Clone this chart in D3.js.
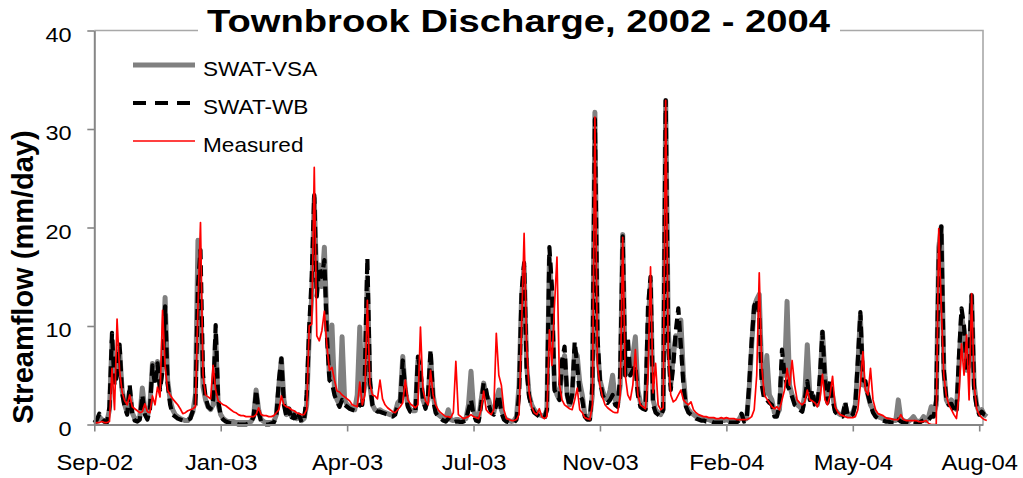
<!DOCTYPE html>
<html>
<head>
<meta charset="utf-8">
<script src="https://cdn.jsdelivr.net/npm/d3@7"></script>
<style>
  body { margin: 0; background: #ffffff; }
  svg text { font-family: Arial, "Liberation Sans", sans-serif; }
</style>
</head>
<body>
<svg id="chart" width="1023" height="478"></svg>
<script>
// ---------------- DATA ----------------
const titleText = "Townbrook Discharge, 2002 - 2004";
const yTitle = "Streamflow (mm/day)";
const seriesNames = ["SWAT-VSA", "SWAT-WB", "Measured"];
const startDate = Date.UTC(2002, 8, 28);   // first value
const stepDays = 2;                          // spacing of the values below
const tickStepDays = 100;                    // spacing of the x-axis ticks
const tickLabels = ["Sep-02", "Jan-03", "Apr-03", "Jul-03", "Nov-03", "Feb-04", "May-04", "Aug-04"];
const yTicks = [0, 10, 20, 30, 40];

const vsa = [
  0.1,0.3,0.8,0.5,0.3,0.3,1.5,8.5,4.5,6.0,
  7.5,3.5,2.0,1.2,3.5,1.2,0.6,0.5,0.8,3.7,
  1.5,0.8,2.0,6.2,4.5,6.4,4.0,6.0,12.9,4.5,
  2.5,1.5,1.0,0.8,0.6,0.5,0.4,0.4,0.7,1.3,
  3.0,18.7,12.0,3.8,2.5,1.8,1.5,2.0,9.0,2.0,
  1.0,0.6,0.4,0.3,0.3,0.3,0.2,0.2,0.2,0.2,
  0.2,0.2,0.3,0.8,3.5,1.5,0.5,0.3,0.2,0.2,
  0.2,0.3,1.0,4.0,6.7,2.5,1.0,1.6,0.8,1.2,
  0.6,0.8,0.4,0.6,2.0,9.0,13.0,23.0,14.0,16.2,
  14.0,18.0,10.0,5.0,10.1,3.5,2.5,2.0,8.9,2.5,
  2.0,1.8,1.6,1.5,3.0,9.9,2.5,4.0,15.0,4.0,
  2.0,1.5,1.4,1.5,1.3,1.2,1.1,1.0,1.0,1.2,
  2.2,2.5,6.9,3.5,2.0,1.5,1.4,1.4,6.5,5.0,
  2.5,1.8,2.5,7.0,3.0,1.5,1.0,0.8,0.7,0.6,
  1.5,0.5,0.4,0.5,0.5,0.4,0.5,0.6,2.0,5.4,
  1.5,0.6,0.5,2.5,4.2,3.0,2.5,1.5,1.2,2.5,
  3.5,1.5,0.8,0.5,0.4,0.3,0.4,0.8,4.0,13.0,
  16.0,6.0,3.0,2.0,1.5,1.2,1.0,0.9,0.8,1.5,
  16.8,12.0,4.0,3.0,2.5,6.0,7.0,3.0,2.0,3.0,
  7.5,7.0,4.3,3.0,1.0,0.7,0.6,3.0,31.7,8.0,
  4.5,3.5,2.7,2.5,3.5,5.0,2.5,2.0,4.0,19.3,
  5.0,6.0,5.0,7.0,8.9,3.5,2.2,1.8,1.6,10.0,
  14.5,2.5,1.5,1.2,1.0,1.5,32.9,10.0,4.0,7.0,
  9.0,8.0,10.6,5.0,2.0,1.5,1.2,1.0,0.8,0.7,
  0.6,0.6,0.5,0.5,0.4,0.4,0.4,0.4,0.4,0.4,
  0.5,0.4,0.4,0.3,0.3,0.5,1.0,0.5,0.6,3.5,
  8.0,12.0,12.7,13.2,5.0,3.0,7.0,3.0,2.5,1.2,
  1.0,1.5,6.0,5.0,12.5,4.0,3.0,2.5,2.0,1.8,
  1.5,3.0,8.1,3.0,3.0,2.5,2.0,4.0,9.4,5.0,
  2.5,4.0,3.0,1.5,1.2,1.0,1.0,2.0,1.0,1.0,
  1.2,2.0,6.0,11.0,4.0,4.0,3.0,2.0,1.5,1.0,
  0.8,0.7,0.6,0.5,0.5,0.4,0.4,0.4,2.5,0.6,
  0.4,0.3,0.3,0.5,0.8,0.4,0.3,0.4,0.8,0.4,
  0.8,1.8,1.0,2.0,18.0,20.1,5.5,2.5,2.0,2.5,
  2.0,1.5,6.0,11.0,9.5,5.5,6.0,13.1,4.0,2.0,
  1.2,1.5,1.0,0.8
];

const wb = [
  0.2,0.5,1.1,0.6,0.3,0.2,1.8,9.3,4.0,5.0,
  8.1,3.2,1.8,1.0,4.0,1.0,0.4,0.3,0.5,3.0,
  1.0,0.5,1.5,6.0,4.0,6.2,3.5,5.5,12.0,4.2,
  2.0,1.0,0.8,0.6,0.5,0.4,0.4,0.5,0.6,1.4,
  2.0,14.0,17.7,5.0,2.8,1.8,1.6,2.5,10.1,2.5,
  0.8,0.5,0.3,0.2,0.1,0.1,0.1,0.0,0.0,0.0,
  0.0,0.1,0.2,0.8,3.5,1.2,0.3,0.1,0.0,0.0,
  0.1,0.2,0.8,4.5,6.7,2.0,0.8,1.6,0.4,1.0,
  0.3,1.0,0.2,0.5,3.0,9.9,15.0,23.3,13.0,16.0,
  15.0,16.7,9.0,4.5,4.2,3.0,2.3,1.8,2.5,2.0,
  1.8,1.6,1.5,1.4,1.5,2.0,2.0,5.0,16.9,4.5,
  2.0,1.5,1.3,1.3,1.2,1.1,1.0,0.9,0.8,1.0,
  2.0,2.2,6.5,3.5,1.8,1.3,1.2,1.3,6.9,5.5,
  2.5,1.6,3.0,7.6,2.5,1.2,0.8,0.6,0.4,0.3,
  0.6,0.3,0.2,0.3,0.3,0.2,0.3,0.4,1.5,2.5,
  1.0,0.4,0.3,2.0,4.2,3.5,2.0,1.2,1.0,2.0,
  3.0,1.2,0.5,0.3,0.2,0.2,0.2,0.5,3.0,13.5,
  16.4,5.5,2.8,1.8,1.2,1.0,0.8,0.7,0.6,1.5,
  18.0,14.0,3.5,3.0,2.5,6.5,7.9,3.0,1.8,3.0,
  8.4,6.0,3.0,2.5,0.8,0.5,0.5,4.0,31.0,9.0,
  4.5,3.0,2.5,2.2,2.5,3.0,2.0,1.8,5.0,19.1,
  5.0,8.9,5.0,5.5,6.0,3.0,1.8,1.6,1.5,12.0,
  15.0,2.0,1.2,1.0,0.8,1.5,32.9,8.0,3.5,6.0,
  9.5,11.8,8.0,4.0,1.8,1.2,1.0,0.8,0.6,0.5,
  0.4,0.4,0.3,0.3,0.3,0.2,0.2,0.2,0.2,0.2,
  0.3,0.2,0.2,0.2,0.2,0.4,1.1,0.3,0.4,4.0,
  8.5,12.0,12.7,11.0,4.0,2.5,2.5,2.2,2.0,0.8,
  0.8,2.0,7.6,5.0,4.0,3.5,2.8,2.0,1.8,1.5,
  1.3,2.5,4.4,2.5,3.5,2.0,1.8,5.0,9.4,4.5,
  2.2,4.4,2.5,1.3,1.0,0.8,0.8,2.3,0.9,0.8,
  1.0,2.0,6.5,11.4,4.5,4.4,3.0,2.0,1.2,0.8,
  0.6,0.5,0.4,0.3,0.3,0.2,0.2,0.2,0.5,0.3,
  0.2,0.2,0.1,0.2,0.3,0.2,0.1,0.3,0.4,0.3,
  0.5,0.8,0.8,2.5,17.0,20.1,5.5,2.5,2.0,2.1,
  1.5,1.2,7.0,11.8,10.0,5.5,7.0,13.1,3.5,1.8,
  1.0,1.3,1.0,0.9
];

const measured = [
  0.1,0.2,0.2,0.3,0.2,0.2,0.3,5.7,1.5,10.7,
  5.5,3.3,2.4,2.0,3.0,1.8,1.6,1.4,1.2,1.3,
  2.1,1.3,1.2,2.9,2.0,3.8,2.8,11.6,6.0,3.5,
  3.0,2.6,2.3,2.0,1.6,1.1,1.2,1.4,1.5,1.6,
  1.8,12.0,20.5,5.0,3.0,2.8,2.6,6.0,3.5,2.4,
  2.2,2.0,1.9,1.7,1.5,1.3,1.2,1.0,0.9,0.9,
  0.8,0.8,0.8,0.8,1.0,1.7,1.0,0.9,0.9,0.8,
  0.8,0.9,1.2,1.5,2.9,2.0,1.8,1.7,1.5,1.4,
  1.2,1.1,1.0,1.0,1.5,10.0,10.2,26.1,9.0,8.5,
  9.5,11.5,8.0,5.5,5.8,4.5,3.4,3.3,3.0,2.8,
  2.6,2.4,2.0,1.9,1.8,4.3,2.0,3.0,12.6,4.1,
  3.0,2.9,2.6,4.5,2.6,2.0,1.7,1.5,1.3,1.2,
  1.5,1.8,2.2,4.5,2.5,2.1,1.9,1.7,2.0,9.9,
  3.5,2.4,2.0,5.5,3.0,2.0,1.5,1.2,1.0,0.8,
  0.8,0.7,1.2,6.4,1.0,0.8,0.6,0.7,0.8,1.0,
  0.8,0.7,0.6,1.5,3.4,1.5,1.2,1.0,1.5,9.25,
  5.0,4.0,1.5,0.6,0.5,0.4,0.4,0.5,1.0,10.0,
  19.4,8.0,3.2,1.8,1.2,1.0,1.6,0.8,0.6,0.8,
  9.6,6.0,12.0,17.0,4.0,2.5,2.0,1.8,1.6,1.5,
  2.5,3.7,1.5,1.2,0.7,0.6,0.5,2.0,31.2,6.0,
  4.0,2.8,2.0,1.7,1.5,1.3,1.2,1.2,3.0,19.0,
  5.0,3.0,2.5,4.0,7.6,3.0,2.0,1.8,1.6,5.0,
  16.0,3.2,6.2,2.0,1.5,1.7,32.9,7.0,3.0,2.3,
  2.5,3.0,3.5,2.5,2.2,2.0,2.3,1.5,1.2,1.0,
  0.9,0.8,0.8,0.7,0.7,0.7,0.6,0.6,0.7,0.6,
  0.7,0.6,0.6,0.6,0.5,0.5,0.5,0.5,0.5,0.6,
  0.8,1.5,5.0,15.4,5.8,3.0,2.6,2.2,1.8,1.6,
  1.8,1.5,2.5,3.5,5.7,4.0,6.5,4.0,2.5,2.2,
  2.0,2.3,3.5,2.5,2.4,2.2,1.8,2.5,5.1,2.5,
  2.0,3.0,4.9,1.8,1.3,1.0,0.9,0.8,0.7,0.7,
  0.7,0.8,1.5,4.0,7.4,3.5,3.0,5.7,2.5,1.5,
  1.1,1.0,0.9,0.7,0.6,0.6,0.5,0.5,0.5,1.0,
  0.5,0.4,0.4,0.4,0.4,0.4,0.3,0.3,0.3,0.4,
  0.1,0.0,0.0,0.0,19.9,12.0,5.0,2.9,2.0,1.5,
  1.0,0.6,3.0,8.2,5.0,9.1,2.5,13.3,4.0,1.6,
  1.0,0.7,0.5,0.4
];

// ---------------- CHART ----------------
const DAY = 864e5;
const dates = vsa.map((_, i) => new Date(startDate + i * stepDays * DAY));
const tickDates = tickLabels.map((_, k) => new Date(startDate + k * tickStepDays * DAY));

const plot = { left: 94.3, right: 983, top: 30.5, bottom: 424.5 };
const x = d3.scaleUtc()
  .domain([new Date(startDate), new Date(startDate + 703 * DAY)])
  .range([plot.left, plot.right]);
const y = d3.scaleLinear().domain([0, 40]).range([plot.bottom, plot.top]);

const svg = d3.select("#chart");
svg.append("rect").attr("width", 1023).attr("height", 478).attr("fill", "#fff");

// plot frame (top & right)
svg.append("path")
  .attr("d", `M${plot.left},${plot.top}H${plot.right}V${plot.bottom}`)
  .attr("fill", "none").attr("stroke", "#a8a8a8").attr("stroke-width", 1.6);

// series lines
const line = d3.line().x((d, i) => x(dates[i])).y(d => y(d));
const styles = [
  { data: vsa, color: "#808080", width: 5, dash: null },
  { data: wb, color: "#000000", width: 4.2, dash: "11,6" },
  { data: measured, color: "#ff0000", width: 1.7, dash: null }
];
styles.forEach(s => {
  svg.append("path").datum(s.data)
    .attr("d", line)
    .attr("fill", "none")
    .attr("stroke", s.color)
    .attr("stroke-width", s.width)
    .attr("stroke-linejoin", "round")
    .attr("stroke-dasharray", s.dash);
});

// axes
const yAxisG = svg.append("g").attr("transform", `translate(${plot.left},0)`)
  .call(d3.axisLeft(y).tickValues(yTicks).tickSize(7).tickSizeOuter(0).tickFormat(d3.format("d")));
const xAxisG = svg.append("g").attr("transform", `translate(0,${plot.bottom})`)
  .call(d3.axisBottom(x).tickValues(tickDates).tickSize(7).tickSizeOuter(0)
    .tickFormat((d, i) => tickLabels[i]));

[yAxisG, xAxisG].forEach(g => {
  g.attr("font-family", null).attr("font-size", null);
  g.select(".domain").attr("stroke", "#868686").attr("stroke-width", 2);
  g.selectAll(".tick line").attr("stroke", "#868686").attr("stroke-width", 1.6);
  g.selectAll(".tick text").attr("fill", "#000");
});
yAxisG.selectAll(".tick text")
  .attr("x", 0).attr("dy", "0.5em")
  .attr("font-size", 21)
  .attr("transform", "translate(-22.6,0) scale(1.12,1)");
xAxisG.selectAll(".tick text")
  .attr("y", 0).attr("dy", 0)
  .attr("font-size", 22)
  .attr("transform", "translate(0,45.5) scale(1.08,1)");

// y axis title
svg.append("text")
  .attr("transform", "translate(33,277) rotate(-90)")
  .attr("text-anchor", "middle")
  .attr("font-size", 29).attr("font-weight", "bold")
  .text(yTitle);

// chart title with white background over the frame
svg.append("rect").attr("x", 198).attr("y", 4).attr("width", 642).attr("height", 40).attr("fill", "#fff");
svg.append("text")
  .attr("x", 207).attr("y", 32)
  .attr("font-size", 31).attr("font-weight", "bold")
  .attr("textLength", 623).attr("lengthAdjust", "spacingAndGlyphs")
  .text(titleText);

// legend
const legendY = [65, 103, 141];
styles.forEach((s, i) => {
  svg.append("line")
    .attr("x1", 133).attr("x2", 195)
    .attr("y1", legendY[i]).attr("y2", legendY[i])
    .attr("stroke", s.color).attr("stroke-width", s.width)
    .attr("stroke-dasharray", s.dash ? "13,9" : null);
  svg.append("text")
    .attr("transform", `translate(203,${legendY[i] + 10.5}) scale(1.13,1)`)
    .attr("font-size", 20)
    .text(seriesNames[i]);
});
</script>
</body>
</html>
